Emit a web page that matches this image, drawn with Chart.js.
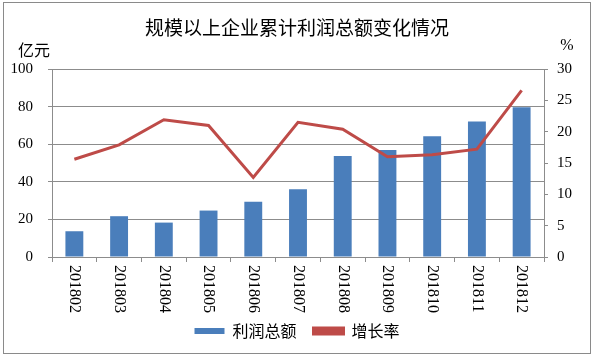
<!DOCTYPE html>
<html>
<head>
<meta charset="utf-8">
<script src="https://cdn.jsdelivr.net/npm/chart.js@4"></script>
<style>
html,body{margin:0;padding:0;background:#fff;}
#wrap{width:599px;height:361px;position:relative;}
</style>
</head>
<body>
<div id="wrap"><canvas id="c" width="599" height="361"></canvas></div>
<script>
const categories = ['201802','201803','201804','201805','201806','201807','201808','201809','201810','201811','201812'];
const profitTotal = [13.7, 21.7, 18.3, 24.7, 29.4, 36.1, 53.7, 56.9, 64.2, 72.1, 79.7];
const growthRate = [15.6, 17.9, 21.9, 21.0, 12.7, 21.5, 20.4, 16.0, 16.3, 17.2, 26.6];
const leftTicks = [0, 20, 40, 60, 80, 100];
const rightTicks = [0, 5, 10, 15, 20, 25, 30];
const titleText = '规模以上企业累计利润总额变化情况';
const leftUnit = '亿元';
const rightUnit = '%';
const seriesNames = ['利润总额', '增长率'];

const CJK = '"Noto Sans CJK SC", "Noto Sans", sans-serif';
const SERIF = '"Liberation Serif", "DejaVu Serif", serif';
const GRID = '#8c8c8c';

const framePlugin = {
  id: 'frame',
  beforeDraw(chart) {
    const ctx = chart.ctx;
    ctx.save();
    ctx.fillStyle = '#fff';
    ctx.fillRect(0, 0, chart.width, chart.height);
    ctx.strokeStyle = '#8a8a8a';
    ctx.lineWidth = 1;
    ctx.strokeRect(3.5, 2.5, 587, 351);
    ctx.restore();
  },
  afterDraw(chart) {
    const ctx = chart.ctx;
    const xs = chart.scales.x;
    ctx.save();
    ctx.fillStyle = '#000';
    ctx.font = '16px ' + CJK;
    ctx.textAlign = 'center';
    ctx.textBaseline = 'middle';
    ctx.fillText(leftUnit, 34, 50);
    ctx.font = '16px ' + SERIF;
    ctx.fillText(rightUnit, 567, 46);
    ctx.font = '16px ' + SERIF;
    ctx.textAlign = 'left';
    categories.forEach((c, i) => {
      const x = xs.getPixelForTick(i);
      ctx.save();
      ctx.translate(x, xs.top + 8);
      ctx.rotate(Math.PI / 2);
      ctx.fillText(c, 0, 0);
      ctx.restore();
    });
    ctx.restore();
  }
};

new Chart(document.getElementById('c'), {
  type: 'bar',
  data: {
    labels: categories,
    datasets: [
      {
        type: 'bar',
        label: seriesNames[0],
        data: profitTotal,
        backgroundColor: '#4a7ebb',
        borderWidth: 0,
        barPercentage: 0.4,
        categoryPercentage: 1.0,
        yAxisID: 'y',
        order: 2
      },
      {
        type: 'line',
        label: seriesNames[1],
        data: growthRate,
        borderColor: '#be4b48',
        backgroundColor: '#be4b48',
        borderWidth: 3,
        pointRadius: 0,
        tension: 0,
        fill: false,
        yAxisID: 'y1',
        order: 1
      }
    ]
  },
  options: {
    responsive: false,
    animation: false,
    devicePixelRatio: 1,
    layout: { padding: { left: 3, right: 8, top: 0, bottom: 12 } },
    plugins: {
      title: {
        display: true,
        text: titleText,
        color: '#000',
        font: { family: CJK, size: 19, weight: 'normal', lineHeight: 1 },
        padding: { top: 18, bottom: 32 }
      },
      legend: {
        position: 'bottom',
        labels: {
          font: { family: CJK, size: 16 },
          color: '#000',
          boxWidth: 30,
          boxHeight: 6,
          padding: 17,
          sort: (a, b) => a.datasetIndex - b.datasetIndex
        }
      },
      tooltip: { enabled: false }
    },
    scales: {
      x: {
        offset: true,
        grid: { display: true, drawOnChartArea: false, offset: true, color: GRID, tickLength: 5 },
        border: { display: true, color: GRID },
        ticks: { display: false },
        afterFit(scale) { scale.height = 49; }
      },
      y: {
        position: 'left',
        min: 0, max: 100,
        afterBuildTicks(scale) { scale.ticks = leftTicks.map(v => ({ value: v })); },
        grid: { color: GRID, tickLength: 4 },
        border: { display: true, color: GRID },
        ticks: { font: { family: SERIF, size: 15 }, color: '#000', padding: 15 },
        afterFit(scale) { scale.width = 49; }
      },
      y1: {
        position: 'right',
        min: 0, max: 30,
        afterBuildTicks(scale) { scale.ticks = rightTicks.map(v => ({ value: v })); },
        grid: { drawOnChartArea: false, color: GRID, tickLength: 4 },
        border: { display: true, color: GRID },
        ticks: { font: { family: SERIF, size: 15 }, color: '#000', padding: 9 },
        afterFit(scale) { scale.width = 47; }
      }
    }
  },
  plugins: [framePlugin]
});
</script>
</body>
</html>
